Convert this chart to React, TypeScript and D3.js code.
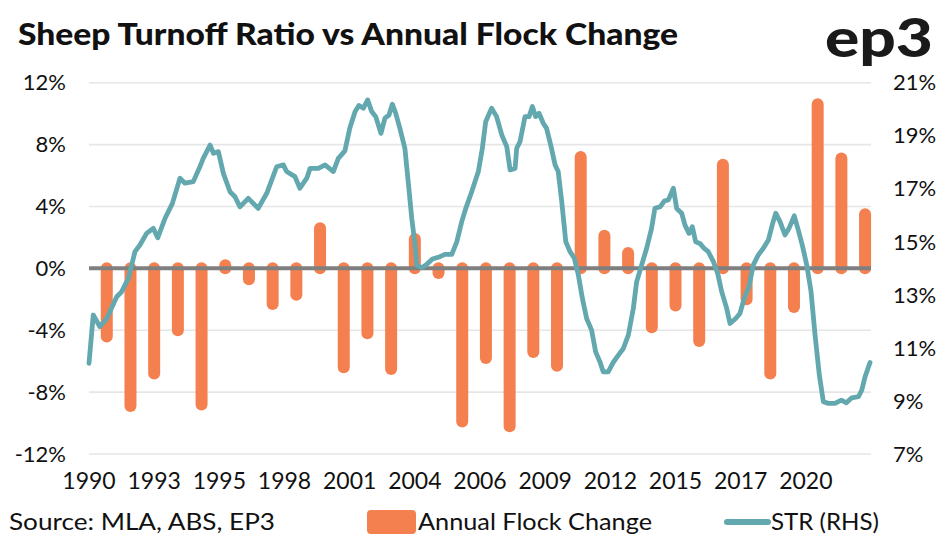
import React from "react";
import * as d3 from "d3";

// ---- data ----
const barYears = [1991, 1992, 1993, 1994, 1995, 1996, 1997, 1998, 1999, 2000, 2001, 2002, 2003, 2004, 2005, 2006, 2007, 2008, 2009, 2010, 2011, 2012, 2013, 2014, 2015, 2016, 2017, 2018, 2019, 2020, 2021, 2022, 2023];
const flockChange = [-4.4, -8.9, -6.8, -4.0, -8.8, 0.2, -0.7, -2.3, -1.7, 2.6, -6.4, -4.2, -6.5, 1.9, -0.3, -9.9, -5.8, -10.2, -5.4, -6.3, 7.2, 2.1, 1.0, -3.8, -2.4, -4.7, 6.7, -2.0, -6.8, -2.5, 10.6, 7.1, 3.5];

const strDates = [1990.25, 1990.43, 1990.71, 1991.0, 1991.42, 1991.63, 1991.91, 1992.19, 1992.4, 1992.68, 1992.96, 1993.15, 1993.46, 1993.77, 1994.09, 1994.3, 1994.65, 1994.93, 1995.07, 1995.36, 1995.5, 1995.71, 1995.92, 1996.2, 1996.41, 1996.62, 1996.97, 1997.39, 1997.75, 1998.17, 1998.45, 1998.59, 1998.94, 1999.15, 1999.44, 1999.58, 1999.93, 2000.21, 2000.56, 2000.77, 2001.05, 2001.26, 2001.48, 2001.64, 2001.83, 2002.01, 2002.18, 2002.35, 2002.57, 2002.74, 2002.91, 2003.05, 2003.19, 2003.37, 2003.58, 2003.72, 2003.87, 2004.01, 2004.08, 2004.29, 2004.5, 2004.74, 2005.06, 2005.27, 2005.56, 2005.77, 2005.98, 2006.15, 2006.4, 2006.68, 2006.85, 2006.99, 2007.24, 2007.45, 2007.67, 2007.88, 2008.02, 2008.23, 2008.3, 2008.44, 2008.65, 2008.82, 2008.96, 2009.1, 2009.24, 2009.42, 2009.56, 2009.75, 2009.92, 2010.05, 2010.2, 2010.37, 2010.55, 2010.73, 2010.9, 2011.07, 2011.25, 2011.46, 2011.63, 2011.81, 2011.95, 2012.16, 2012.37, 2012.59, 2012.8, 2013.01, 2013.22, 2013.36, 2013.57, 2013.78, 2013.99, 2014.13, 2014.35, 2014.53, 2014.7, 2014.91, 2015.05, 2015.26, 2015.4, 2015.57, 2015.71, 2015.85, 2016.03, 2016.21, 2016.38, 2016.6, 2016.78, 2016.95, 2017.16, 2017.3, 2017.54, 2017.72, 2017.9, 2018.1, 2018.28, 2018.49, 2018.7, 2018.92, 2019.08, 2019.23, 2019.41, 2019.62, 2019.79, 2020.01, 2020.18, 2020.35, 2020.54, 2020.72, 2020.89, 2021.07, 2021.24, 2021.45, 2021.73, 2022.0, 2022.21, 2022.44, 2022.72, 2022.86, 2023.0, 2023.21];
const strValues = [10.42, 12.24, 11.8, 12.11, 12.93, 13.12, 13.62, 14.63, 14.88, 15.32, 15.51, 15.15, 15.89, 16.45, 17.4, 17.21, 17.27, 17.83, 18.15, 18.65, 18.34, 18.4, 17.58, 16.89, 16.7, 16.32, 16.64, 16.26, 16.83, 17.83, 17.9, 17.65, 17.46, 17.02, 17.4, 17.77, 17.77, 17.9, 17.65, 18.15, 18.43, 19.3, 19.91, 20.14, 20.04, 20.35, 19.91, 19.72, 19.09, 19.66, 19.78, 20.19, 19.85, 19.28, 18.53, 17.27, 15.89, 14.88, 14.12, 14.02, 14.15, 14.35, 14.44, 14.53, 14.53, 15.0, 15.76, 16.26, 16.89, 17.65, 18.53, 19.53, 20.04, 19.72, 19.03, 18.59, 17.71, 17.77, 18.53, 18.78, 19.72, 19.72, 20.1, 19.72, 19.85, 19.47, 19.28, 18.59, 17.9, 17.65, 16.51, 15.0, 14.63, 14.38, 13.75, 12.87, 12.11, 11.67, 10.85, 10.48, 10.1, 10.1, 10.45, 10.73, 10.98, 11.48, 12.49, 13.49, 14.12, 14.75, 15.51, 16.26, 16.32, 16.54, 16.58, 17.02, 16.26, 16.08, 15.63, 15.32, 15.57, 15.0, 14.94, 14.75, 14.63, 14.25, 13.81, 13.12, 12.49, 11.92, 12.11, 12.3, 12.87, 13.31, 14.12, 14.5, 14.75, 15.07, 15.63, 16.08, 15.76, 15.26, 15.51, 15.98, 15.45, 14.88, 14.12, 13.12, 11.48, 9.97, 8.97, 8.91, 8.91, 9.03, 8.93, 9.12, 9.16, 9.41, 9.91, 10.45];

const xTickLabels = ["1990", "1993", "1995", "1998", "2001", "2004", "2006", "2009", "2012", "2015", "2017", "2020"];
const leftTicks = [12, 8, 4, 0, -4, -8, -12];
const rightTicks = [21, 19, 17, 15, 13, 11, 9, 7];

const title = "Sheep Turnoff Ratio vs Annual Flock Change";
const sourceText = "Source: MLA, ABS, EP3";
const barLabel = "Annual Flock Change";
const lineLabel = "STR (RHS)";

const ORANGE = "#F5804F";
const TEAL = "#63A8AF";
const FONT = "Lato, 'Noto Sans', sans-serif";

export default function App() {
  const W = 947, H = 543;
  const left = 89, right = 871, top = 82.7, bottom = 454;
  const x0 = 1990.25, x1 = 2023.25;
  const x = d3.scaleLinear().domain([x0, x1]).range([left, right]);
  const yL = d3.scaleLinear().domain([-12, 12]).range([bottom, top]);
  const yR = d3.scaleLinear().domain([7, 21]).range([bottom, top]);

  const pts: [number, number][] = strDates.map((d, i) => [d, strValues[i]]);
  const line = d3
    .line<[number, number]>()
    .x((d) => x(d[0]))
    .y((d) => yR(d[1]))
    .curve(d3.curveLinear);

  const labelStep = (x1 - x0) / xTickLabels.length;

  return (
    <svg
      width={W}
      height={H}
      style={{ position: "absolute", left: 0, top: 0, background: "#fff" }}
      fontFamily={FONT}
    >
      <rect width={W} height={H} fill="#fff" />
      <text x={18} y={45} fontSize={31} fontWeight={900} fill="#111" textLength={660} lengthAdjust="spacingAndGlyphs">
        {title}
      </text>
      <text x={825} y={57} fontSize={54} fontWeight={900} fill="#1a1a1a" textLength={108} lengthAdjust="spacingAndGlyphs">
        ep3
      </text>

      {/* grid */}
      {leftTicks.map((t) => (
        <line key={"g" + t} x1={left} x2={right} y1={yL(t)} y2={yL(t)} stroke="#e6e6e6" strokeWidth={1.6} />
      ))}

      {/* bars */}
      {barYears.map((yr, i) => (
        <line
          key={"b" + yr}
          x1={x(yr)}
          x2={x(yr)}
          y1={yL(0)}
          y2={yL(flockChange[i])}
          stroke={ORANGE}
          strokeWidth={12}
          strokeLinecap="round"
        />
      ))}

      {/* zero line */}
      <line x1={left} x2={right} y1={yL(0)} y2={yL(0)} stroke="#7f7f7f" strokeWidth={4} />

      {/* STR line */}
      <path d={line(pts) || ""} fill="none" stroke={TEAL} strokeWidth={4.8} strokeLinejoin="round" strokeLinecap="round" />

      {/* left axis */}
      {leftTicks.map((t) => (
        <text key={"l" + t} x={66} y={yL(t)} dy="0.35em" textAnchor="end" fontSize={22} fill="#111">
          {t + "%"}
        </text>
      ))}
      {/* right axis */}
      {rightTicks.map((t) => (
        <text key={"r" + t} x={893} y={yR(t)} dy="0.35em" textAnchor="start" fontSize={22} fill="#111">
          {t + "%"}
        </text>
      ))}
      {/* x axis labels */}
      {xTickLabels.map((lab, k) => (
        <text key={"x" + lab} x={x(x0 + k * labelStep)} y={481} dy="0.35em" textAnchor="middle" fontSize={23} fill="#111">
          {lab}
        </text>
      ))}

      {/* legend */}
      <text x={9} y={522} dy="0.35em" fontSize={23} fill="#111" textLength={266} lengthAdjust="spacingAndGlyphs">
        {sourceText}
      </text>
      <rect x={367} y={510} width={49} height={24} rx={4} fill={ORANGE} />
      <text x={418} y={522} dy="0.35em" fontSize={23} fill="#111" textLength={234} lengthAdjust="spacingAndGlyphs">
        {barLabel}
      </text>
      <line x1={727} x2={768} y1={522} y2={522} stroke={TEAL} strokeWidth={6} strokeLinecap="round" />
      <text x={771} y={522} dy="0.35em" fontSize={23} fill="#111" textLength={108} lengthAdjust="spacingAndGlyphs">
        {lineLabel}
      </text>
    </svg>
  );
}
